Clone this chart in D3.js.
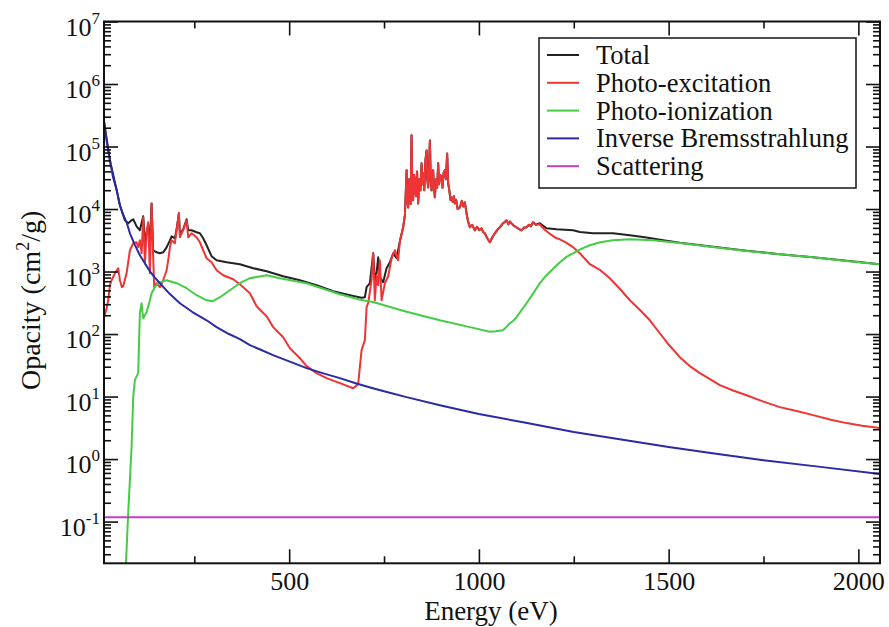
<!DOCTYPE html>
<html>
<head>
<meta charset="utf-8">
<script src="https://cdn.jsdelivr.net/npm/d3@7"></script>
<style>
  body { margin: 0; background: #fff; }
  svg { display: block; }
  text { font-family: "Liberation Serif", "Times New Roman", serif; fill: #111; }
</style>
</head>
<body>
<svg id="chart" width="889" height="627"></svg>
<script>
// ---- data: [energy (eV), opacity (cm^2/g)] ----
const seriesNames = ["Total", "Photo-excitation", "Photo-ionization", "Inverse Bremsstrahlung", "Scattering"];

const photoExcitation = [
  [11.7,179],[18.9,259],[23.1,347],[27.6,604],[32.0,726],[40.7,938],[49.4,1130],[53.9,726],
  [59.2,561],[62.6,582],[71.5,938],[80.3,2190],[89.0,2830],[97.9,2940],[102.1,2440],[106.6,3160],
  [111.1,1960],[115.3,7360],[119.8,1360],[124.2,4090],[128.5,6120],[133.0,938],[137.4,12300],
  [141.6,1690],[144.3,561],[150.6,650],[159.3,561],[168.0,726],[177.0,1050],[181.2,1510],
  [185.7,2440],[190.1,3160],[198.8,2830],[203.3,4570],[209.4,8530],[212.0,3530],[220.7,4570],
  [229.7,6590],[233.9,3530],[242.8,4090],[256.0,3530],[264.7,2940],[273.4,2190],[282.4,1630],
  [295.5,1410],[308.7,1050],[326.1,871],[352.5,753],[370.1,627],[396.5,450],[414.1,279],
  [440.5,193],[457.9,129],[484.2,89],[501.9,59.4],[528.2,41.1],[545.9,30.6],[572.2,23.7],
  [598.6,19.7],[633.6,16.4],[668.7,13.6],[681.8,15.8],[690.8,55.2],[699.5,79.8],[704.0,269],
  [708.2,311],[717.1,726],[721.4,1960],[725.8,347],[730.3,871],[734.5,604],[739.0,1510],
  [743.5,347],[752.2,650],[760.9,841],[769.8,1630],[778.6,2190],[787.2,1510],[791.7,3050],
  [800.4,5100],[805,8000],[809.4,41600],[811,14000],[813.6,10600],[816,30000],[818.1,22200],
  [820,12000],[822.5,151000],[824.5,20000],[826.7,13800],[829,35000],[831.2,28800],[834,16000],
  [837,40000],[839.9,12300],[843,30000],[846,20000],[848.9,53800],[851,25000],[853.1,37200],
  [856,20000],[859,60000],[862.1,86700],[864,30000],[866.3,22200],[868.5,45000],[870.8,125000],
  [873,30000],[875.2,19900],[877,35000],[879.4,41600],[881.5,22000],[883.9,15400],[887,30000],
  [890,22000],[892.6,53800],[895,25000],[898,35000],[901.6,32100],[904,22000],[907,38000],
  [910.3,41600],[913,30000],[916.3,77600],[919.0,25800],[922,20000],[925,14000],[927.9,15400],
  [931,13000],[934,16000],[936.6,12300],[940,14000],[944,10000],[949.8,10600],[955,13500],
  [959,11000],[963.0,12800],[967.4,8530],[971,6500],[976.1,5100],[982,5600],[989.3,4570],
  [995,5200],[1001,4600],[1007.0,4920],[1011,4300],[1015.7,4090],[1022,3400],[1028.9,2940],
  [1035,3500],[1042.0,4090],[1048,4600],[1055.2,5100],[1062,5800],[1068,6200],[1072.9,6590],
  [1078,5700],[1082,6300],[1086.0,5900],[1092,5400],[1099.2,5100],[1105,4800],[1112.4,4570],
  [1118,5000],[1125.5,5100],[1132,5600],[1137,5300],[1142.9,6120],[1150,5600],[1160.6,5700],
  [1168,5000],[1178.2,4400],[1190,3900],[1204.6,3400],[1213.3,3280],[1230,2900],[1248.4,2440],
  [1266.0,1960],[1292.4,1310],[1320,1050],[1345.0,781],[1370,540],[1397.8,347],[1425,240],
  [1450.5,166],[1476.8,103],[1500,68],[1529.5,42.7],[1555,31],[1582.2,23.7],[1610,18.8],
  [1634.9,15.2],[1670,12.5],[1705.3,10.5],[1750,8.3],[1793.0,6.77],[1840,5.8],[1880.7,5.05],
  [1925,4.3],[1968.8,3.76],[2010,3.4],[2056.5,3.13]
];

const photoIonization = [
  [68,0.012],[75.8,0.137],[84.7,1.56],[89.0,9.8],[93.4,18.3],[102.1,23.7],[106.6,215],
  [111.0,311],[115.3,179],[124.2,223],[133.0,347],[137.3,450],[146.1,561],[154.8,650],
  [168.0,700],[177.0,726],[203.3,650],[229.6,541],[256.0,418],[282.3,347],[299.0,335],
  [317.5,388],[343.8,502],[370.1,650],[396.5,782],[440.4,873],[475.5,782],[545.8,650],
  [633.6,434],[690.8,350],[720.5,325],[809.4,228],[897.1,166],[976.2,129],[1028.9,109],
  [1045,111],[1063.1,115],[1072,128],[1081.6,149],[1090,162],[1099.2,186],[1112,240],
  [1125.5,311],[1140,420],[1160.6,650],[1178.2,873],[1195,1100],[1213.3,1406],[1230,1700],
  [1247.5,1960],[1270,2300],[1292.3,2630],[1320,2950],[1352.9,3160],[1397.7,3280],
  [1458.3,3160],[1529.5,2860],[1616.4,2470],[1705.3,2130],[1793.1,1890],[1880.1,1690],
  [1968.9,1475],[2057.7,1306]
];

const inverseBremsstrahlung = [
  [11.7,262000],[20,110000],[27.6,60000],[36,32000],[45.5,19900],[53.9,11500],[62,8300],
  [71.5,6130],[80.3,4090],[93,2700],[106.6,1820],[120,1340],[133.0,1010],[146,800],[159.3,650],
  [185,440],[212.0,311],[245,225],[282.4,166],[308.7,129],[340,101],[370.1,82.8],[396.5,66.4],
  [425,56],[457.3,45.9],[500,36.5],[545.9,28.5],[590,23.5],[633.6,19.7],[675,16.3],
  [720.5,13.6],[765,11.5],[809.4,9.8],[900,7.2],[1000,5.24],[1120,3.85],[1250,2.70],
  [1375,2.05],[1500,1.56],[1625,1.22],[1750,0.96],[1900,0.75],[2057,0.575]
];

const scattering = [[11.7,0.117],[2057,0.117]];

// total below the 790 eV edge region
const totalLow = [
  [11.7,262000],[27.6,60000],[45.5,19900],[53.9,11500],[67.1,6590],[75.8,5900],[84.7,6590],
  [89.0,6850],[97.9,5290],[106.6,4570],[115.3,7650],[119.8,3160],[124.2,4090],[128.5,5700],
  [133.0,2540],[137.4,12300],[141.6,2190],[150.6,2030],[159.3,1960],[168.0,2030],[177.0,2440],
  [185.7,3160],[190.1,3660],[198.8,3400],[203.3,4740],[209.4,8530],[212.0,3940],[220.7,4740],
  [229.7,6850],[233.9,4570],[242.8,4570],[256.0,4250],[264.7,4090],[273.4,3400],[282.4,2630],
  [295.5,1760],[308.7,1510],[335.1,1410],[370.1,1310],[405.2,1130],[440.5,1010],[484.2,841],
  [528.2,726],[572.2,604],[616.0,484],[660.0,418],[690.8,381],[699.5,388],[704.0,561],
  [712.7,650],[721.4,1960],[725.8,726],[730.3,938],[734.5,1690],[739.0,811],[747.7,675],
  [756.6,1130],[765.4,1410],[774.1,1960],[783.0,1630],[787.2,2190]
];
// total above 1150 eV
const totalHigh = [
  [1160.6,5910],[1178.2,4920],[1204.6,4740],[1248.4,4570],[1266.0,4290],[1300.3,4090],
  [1353.0,4090],[1397.8,3800],[1441.8,3490],[1485.5,3160],[1529.5,2880],[1616.5,2490],
  [1705.3,2150],[1793.0,1890],[1880.0,1690],[1968.8,1490],[2056.5,1310]
];
// between 790 and 1150 eV the total is carried by the photo-excitation lines
const total = totalLow
  .concat(photoExcitation.filter(d => d[0] > 789 && d[0] < 1155))
  .concat(totalHigh);

const xTicks = [500, 1000, 1500, 2000];
const xMinorTicks = [250, 750, 1250, 1750];
const yExponents = [-1, 0, 1, 2, 3, 4, 5, 6, 7];

// ---- layout ----
const plot = { left: 104, right: 880, top: 21.5, bottom: 563.3 };
const colors = ["#222222", "#f03434", "#44cc44", "#2a2aa6", "#c23fc2"];
const serif = "'Liberation Serif', 'Times New Roman', serif";

const svg = d3.select("#chart");
const x = d3.scaleLinear().domain([12, 2057]).range([plot.left, plot.right]);
const y = d3.scaleLog().domain([0.0215, 1e7]).range([plot.bottom, plot.top]);

svg.append("defs").append("clipPath").attr("id", "plotClip")
  .append("rect")
  .attr("x", plot.left).attr("y", plot.top)
  .attr("width", plot.right - plot.left).attr("height", plot.bottom - plot.top);

// curves, drawn in set order
const line = d3.line().x(d => x(d[0])).y(d => y(d[1]));
const seriesData = [total, photoExcitation, photoIonization, inverseBremsstrahlung, scattering];
const curves = svg.append("g").attr("clip-path", "url(#plotClip)");
seriesData.forEach((data, i) => {
  curves.append("path")
    .datum(data)
    .attr("d", line)
    .attr("fill", "none")
    .attr("stroke", colors[i])
    .attr("stroke-width", 2)
    .attr("stroke-linejoin", "round");
});

// ---- axes: ticks point inward on all four sides ----
const majorLen = 14, minorLen = 7;
const yMinor = [];
for (let e = -2; e <= 6; e++) {
  for (let k = 2; k <= 9; k++) {
    const v = k * Math.pow(10, e);
    if (v >= y.domain()[0] && v <= y.domain()[1]) yMinor.push(v);
  }
}
const yMajor = yExponents.map(e => Math.pow(10, e));

function styleAxis(g) {
  g.select(".domain").remove();
  g.attr("font-family", serif);
  g.selectAll(".tick line").attr("stroke", "#111").attr("stroke-width", 1.6);
}

svg.append("g").attr("transform", `translate(0,${plot.bottom})`)
  .call(d3.axisBottom(x).tickValues(xTicks).tickSize(-majorLen).tickPadding(7).tickFormat(d3.format("d")))
  .call(styleAxis)
  .call(g => g.selectAll(".tick text")
    .attr("font-size", 26).attr("fill", "#111").attr("dy", "0.74em"));
svg.append("g").attr("transform", `translate(0,${plot.bottom})`)
  .call(d3.axisBottom(x).tickValues(xMinorTicks).tickSize(-minorLen).tickFormat(""))
  .call(styleAxis);
svg.append("g").attr("transform", `translate(0,${plot.top})`)
  .call(d3.axisTop(x).tickValues(xTicks).tickSize(-majorLen).tickFormat(""))
  .call(styleAxis);
svg.append("g").attr("transform", `translate(0,${plot.top})`)
  .call(d3.axisTop(x).tickValues(xMinorTicks).tickSize(-minorLen).tickFormat(""))
  .call(styleAxis);

svg.append("g").attr("transform", `translate(${plot.left},0)`)
  .call(d3.axisLeft(y).tickValues(yMajor).tickSize(-majorLen).tickFormat(""))
  .call(styleAxis);
svg.append("g").attr("transform", `translate(${plot.left},0)`)
  .call(d3.axisLeft(y).tickValues(yMinor).tickSize(-minorLen).tickFormat(""))
  .call(styleAxis);
svg.append("g").attr("transform", `translate(${plot.right},0)`)
  .call(d3.axisRight(y).tickValues(yMajor).tickSize(-majorLen).tickFormat(""))
  .call(styleAxis);
svg.append("g").attr("transform", `translate(${plot.right},0)`)
  .call(d3.axisRight(y).tickValues(yMinor).tickSize(-minorLen).tickFormat(""))
  .call(styleAxis);

// y tick labels as powers of ten
const yLab = svg.append("g");
yExponents.forEach(e => {
  const t = yLab.append("text")
    .attr("x", plot.left - 4)
    .attr("y", y(Math.pow(10, e)) + 14)
    .attr("text-anchor", "end")
    .attr("font-size", 26);
  t.append("tspan").text("10");
  t.append("tspan").attr("font-size", 17).attr("dy", -12).text(String(e));
});

// frame
svg.append("rect")
  .attr("x", plot.left).attr("y", plot.top)
  .attr("width", plot.right - plot.left).attr("height", plot.bottom - plot.top)
  .attr("fill", "none").attr("stroke", "#111").attr("stroke-width", 2);

// axis titles
svg.append("text")
  .attr("x", 491).attr("y", 620)
  .attr("text-anchor", "middle").attr("font-size", 27)
  .text("Energy (eV)");
const yt = svg.append("text")
  .attr("transform", `translate(40,${(plot.top + plot.bottom) / 2 + 8}) rotate(-90)`)
  .attr("text-anchor", "middle").attr("font-size", 28);
yt.append("tspan").text("Opacity (cm");
yt.append("tspan").attr("font-size", 18).attr("dy", -11).text("2");
yt.append("tspan").attr("dy", 11).text("/g)");

// legend
const legend = svg.append("g");
legend.append("rect")
  .attr("x", 539).attr("y", 38).attr("width", 317).attr("height", 150)
  .attr("fill", "#fff").attr("stroke", "#222").attr("stroke-width", 1.6);
seriesNames.forEach((name, i) => {
  const cy = 55 + i * 27.8;
  legend.append("line")
    .attr("x1", 547).attr("x2", 579).attr("y1", cy).attr("y2", cy)
    .attr("stroke", colors[i]).attr("stroke-width", 2);
  legend.append("text")
    .attr("x", 596).attr("y", cy + 9)
    .attr("font-size", 26.5)
    .text(name);
});
</script>
</body>
</html>
